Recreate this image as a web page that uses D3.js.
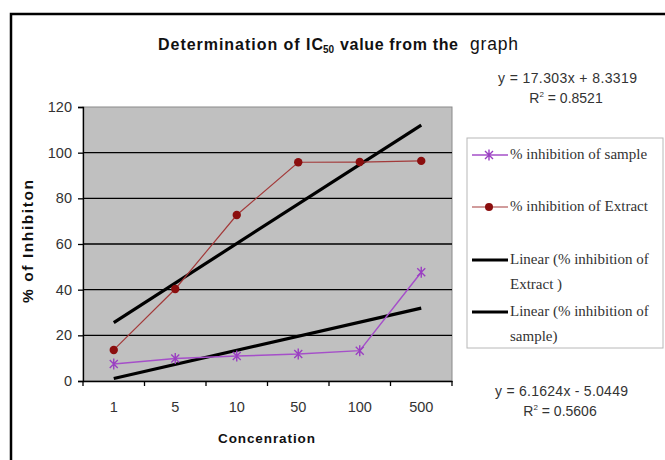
<!DOCTYPE html>
<html><head><meta charset="utf-8">
<script src="https://cdn.jsdelivr.net/npm/d3@7"></script>
<style>body{margin:0;background:#fff}svg{display:block}</style>
</head><body>
<svg id="c" width="665" height="460"></svg>
<script>
const categories = ["1","5","10","50","100","500"];
const extractValues = [13.6, 40.3, 72.7, 95.8, 95.9, 96.4];
const sampleValues = [7.4, 9.9, 10.9, 11.8, 13.3, 47.6];
const extractTrend = [25.6, 42.9, 60.2, 77.5, 94.8, 112.1];
const sampleTrend = [1.1, 7.3, 13.4, 19.6, 25.8, 31.9];
const yTicks = [0, 20, 40, 60, 80, 100, 120];
const legendLabels = [["% inhibition of sample"],["% inhibition of Extract"],["Linear (% inhibition of","Extract )"],["Linear (% inhibition of","sample)"]];

const svg = d3.select("#c");
const sans = "Arial, 'Liberation Sans', sans-serif";
const serif = "'Times New Roman', 'Liberation Serif', serif";

// outer frame
svg.append("rect").attr("x",11).attr("y",14).attr("width",760).attr("height",560)
  .attr("fill","none").attr("stroke","#000").attr("stroke-width",2.5);

const L=83, R=452, T=107, B=381;
const x = d3.scaleBand().domain(categories).range([L,R]);
const y = d3.scaleLinear().domain([0,120]).range([B,T]);
const cx = d => x(d)+x.bandwidth()/2;

// plot area
svg.append("rect").attr("x",L).attr("y",T).attr("width",R-L).attr("height",B-T)
  .attr("fill","#c0c0c0").attr("stroke","#8a8a8a").attr("stroke-width",1);
svg.append("g").selectAll("line").data(yTicks.filter(v=>v>0&&v<120)).join("line")
  .attr("x1",L).attr("x2",R).attr("y1",d=>y(d)).attr("y2",d=>y(d))
  .attr("stroke","#000").attr("stroke-width",1.3);

// axes
const ya = svg.append("g").attr("transform",`translate(${L},0)`)
  .call(d3.axisLeft(y).tickValues(yTicks).tickSize(5).tickPadding(6));
ya.select(".domain").attr("stroke","#000").attr("stroke-width",1.3);
ya.selectAll(".tick line").attr("stroke","#000").attr("stroke-width",1.3);
ya.selectAll("text").attr("font-family",sans).attr("font-size",14.5).attr("fill","#333");

const xa = svg.append("g").attr("transform",`translate(0,${B})`)
  .call(d3.axisBottom(x).tickSize(0).tickPadding(21));
xa.select(".domain").attr("stroke","#000").attr("stroke-width",1.3);
xa.selectAll("text").attr("font-family",sans).attr("font-size",14.5).attr("fill","#333");
const bounds = categories.map(c=>x(c)).concat([R]);
svg.append("g").selectAll("line").data(bounds).join("line")
  .attr("x1",d=>d).attr("x2",d=>d).attr("y1",B).attr("y2",B+5)
  .attr("stroke","#000").attr("stroke-width",1.3);

// trend lines
const line = d3.line().x((d,i)=>cx(categories[i])).y(d=>y(d));
[extractTrend, sampleTrend].forEach(t=>{
  svg.append("path").datum([t[0], t[t.length-1]])
    .attr("d", d3.line().x((d,i)=>cx(categories[i*(categories.length-1)])).y(d=>y(d)))
    .attr("fill","none").attr("stroke","#000").attr("stroke-width",3.2);
});

// extract series
svg.append("path").datum(extractValues).attr("d",line)
  .attr("fill","none").attr("stroke","#a33a3a").attr("stroke-width",1.2);
svg.append("g").selectAll("circle").data(extractValues).join("circle")
  .attr("cx",(d,i)=>cx(categories[i])).attr("cy",d=>y(d)).attr("r",4.2).attr("fill","#8b0e0e");

// sample series
const sampleColor = "#a54fc9";
const star = "M-4,-4L4,4M-4,4L4,-4M0,-5.5L0,5.5";
svg.append("path").datum(sampleValues).attr("d",line)
  .attr("fill","none").attr("stroke",sampleColor).attr("stroke-width",1.5);
svg.append("g").selectAll("path").data(sampleValues).join("path")
  .attr("transform",(d,i)=>`translate(${cx(categories[i])},${y(d)})`)
  .attr("d",star).attr("stroke","#9a3ec2").attr("stroke-width",1.4).attr("fill","none");

// title
function fitText(txt, x0, x1, yb, size, weight, color){
  return svg.append("text").attr("x",x0).attr("y",yb).text(txt)
    .attr("font-family",sans).attr("font-size",size).attr("font-weight",weight)
    .attr("textLength",x1-x0).attr("lengthAdjust","spacing").attr("fill",color||"#111");
}
fitText("Determination of IC",158,323,50,16,"bold");
svg.append("text").attr("x",323).attr("y",53).text("50").attr("font-family",sans)
  .attr("font-size",10).attr("font-weight","bold").attr("fill","#111");
fitText("value from the",340,458,50,16,"bold");
fitText("graph",470,518,50,17.5,"normal");

// axis labels
svg.append("text")
  .attr("transform","translate(33,303) rotate(-90)")
  .attr("textLength",123).attr("lengthAdjust","spacing")
  .text("% of Inhibiton").attr("font-family",sans).attr("font-size",15.5).attr("font-weight","bold").attr("fill","#111");
fitText("Concenration",218,315,443,13.5,"bold");

// equations
function eq(lines, cxp, y0, x0, x1){
  lines.forEach((s,i)=>{
    const t = svg.append("text").attr("y",y0+i*19.5)
      .attr("font-family",sans).attr("font-size",14).attr("fill","#333");
    if(s.startsWith("R")){
      t.attr("x",cxp).attr("text-anchor","middle");
      t.append("tspan").text("R");
      t.append("tspan").text("2").attr("font-size",8).attr("dy",-6);
      t.append("tspan").text(s.slice(1)).attr("dy",6);
    } else t.text(s).attr("x",x0).attr("textLength",x1-x0).attr("lengthAdjust","spacing");
  });
}
eq(["y = 17.303x + 8.3319","R = 0.8521"],566,83,498,637);
eq(["y = 6.1624x - 5.0449","R = 0.5606"],560,396,495,628);

// legend
svg.append("rect").attr("x",467).attr("y",138).attr("width",196).attr("height",210)
  .attr("fill","#fff").attr("stroke","#b8b8b8").attr("stroke-width",1);
const legY = [155, 207, 260, 312];
const lg = svg.append("g");
lg.append("line").attr("x1",472).attr("x2",508).attr("y1",legY[0]).attr("y2",legY[0]).attr("stroke",sampleColor).attr("stroke-width",1.5);
lg.append("path").attr("transform",`translate(489,${legY[0]})`).attr("d",star).attr("stroke","#9a3ec2").attr("stroke-width",1.4);
lg.append("line").attr("x1",472).attr("x2",508).attr("y1",legY[1]).attr("y2",legY[1]).attr("stroke","#a33a3a").attr("stroke-width",1.2);
lg.append("circle").attr("cx",489).attr("cy",legY[1]).attr("r",4).attr("fill","#8b0e0e");
[2,3].forEach(k=>lg.append("line").attr("x1",472).attr("x2",508).attr("y1",legY[k]).attr("y2",legY[k]).attr("stroke","#000").attr("stroke-width",3));
legendLabels.forEach((lab,i)=>{
  lab.forEach((s,j)=>{
    lg.append("text").attr("x",510).attr("y",legY[i]+4+j*25).text(s)
      .attr("font-family",serif).attr("font-size",15).attr("fill","#333");
  });
});
</script>
</body></html>
